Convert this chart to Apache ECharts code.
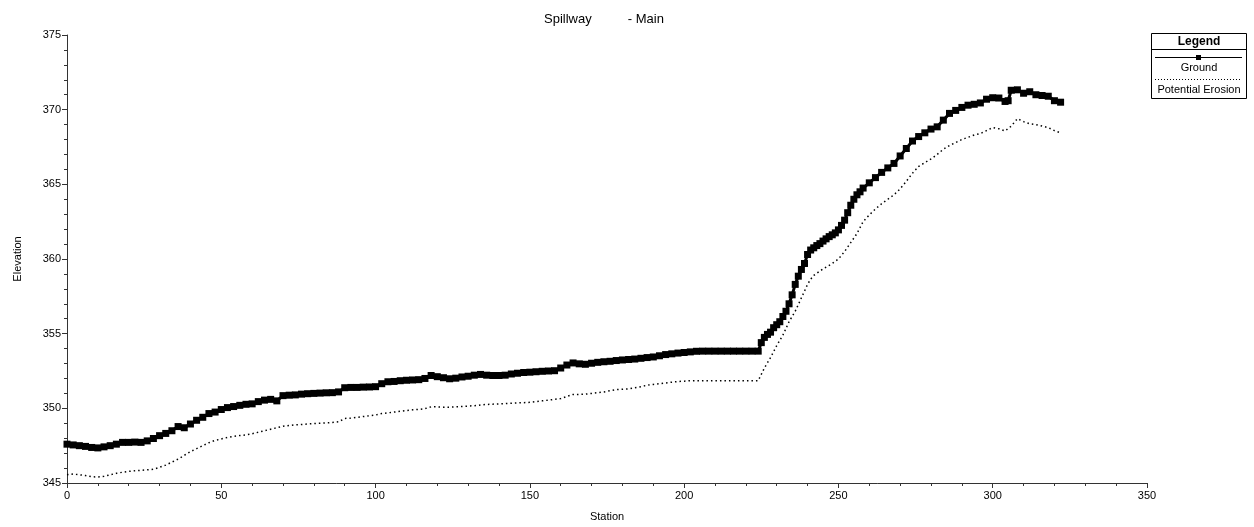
<!DOCTYPE html>
<html>
<head>
<meta charset="utf-8">
<script src="https://cdn.jsdelivr.net/npm/echarts@6/dist/echarts.min.js"></script>
<style>
html,body{margin:0;padding:0;background:#fff;}
#c{width:1254px;height:527px;}
</style>
</head>
<body>
<div id="c"></div>
<script>
// ---- data ----
var groundStations = [0,2,4,6,8,10,12,14,16,18,20,22,24,26,28,30,32,34,36,38,40,42,44,46,48,50,52,54,56,58,60,62,64,66,68,70,72,74,76,78,80,82,84,86,88,90,92,94,96,98,100,102,104,106,108,110,112,114,116,118,120,122,124,126,128,130,132,134,136,138,140,142,144,146,148,150,152,154,156,158,160,162,164,166,168,170,172,174,176,178,180,182,184,186,188,190,192,194,196,198,200,202,204,206,208,210,212,214,216,218,220,222,224,225,226,227,228,229,230,231,232,233,234,235,236,237,238,239,240,241,242,243,244,245,246,247,248,249,250,251,252,253,254,255,256,257,258,260,262,264,266,268,270,272,274,276,278,280,282,284,286,288,290,292,294,296,298,300,302,304,305,306,308,310,312,314,316,318,320,322];
var groundElev = [347.6,347.55,347.5,347.45,347.38,347.35,347.42,347.5,347.6,347.72,347.72,347.74,347.72,347.82,347.98,348.17,348.32,348.5,348.78,348.7,348.95,349.2,349.4,349.65,349.75,349.92,350.05,350.12,350.2,350.27,350.3,350.45,350.55,350.6,350.5,350.85,350.88,350.9,350.95,350.98,351.0,351.02,351.04,351.05,351.1,351.38,351.4,351.4,351.42,351.43,351.45,351.65,351.78,351.8,351.85,351.88,351.9,351.92,352.0,352.2,352.12,352.05,351.98,352.02,352.1,352.15,352.22,352.27,352.22,352.2,352.2,352.22,352.3,352.35,352.4,352.42,352.45,352.48,352.5,352.52,352.7,352.9,353.04,352.98,352.95,353.02,353.08,353.12,353.15,353.2,353.24,353.27,353.3,353.35,353.4,353.44,353.52,353.6,353.65,353.7,353.74,353.78,353.82,353.83,353.83,353.83,353.83,353.83,353.83,353.83,353.83,353.83,353.83,354.4,354.75,354.95,355.1,355.4,355.6,355.8,356.15,356.5,357.0,357.6,358.3,358.85,359.3,359.7,360.3,360.6,360.75,360.9,361.03,361.2,361.35,361.5,361.62,361.75,361.95,362.25,362.6,363.1,363.6,364.0,364.3,364.5,364.75,365.1,365.45,365.8,366.1,366.4,366.9,367.4,367.9,368.2,368.45,368.7,368.85,369.3,369.75,369.95,370.15,370.3,370.36,370.45,370.7,370.8,370.78,370.55,370.6,371.3,371.33,371.1,371.2,371.0,370.95,370.9,370.6,370.5];

var erosionStations = [0,2,4,6,8,10,12,14,16,18,20,22,24,26,28,30,32,34,36,38,40,42,44,46,48,50,52,54,56,58,60,62,64,66,68,70,72,74,76,78,80,82,84,86,88,90,92,94,96,98,100,102,104,106,108,110,112,114,116,118,120,122,124,126,128,130,132,134,136,138,140,142,144,146,148,150,152,154,156,158,160,162,164,166,168,170,172,174,176,178,180,182,184,186,188,190,192,194,196,198,200,202,204,206,208,210,212,214,216,218,220,222,224,226,228,230,232,234,236,238,240,241,242,244,246,248,250,252,254,256,258,260,262,264,266,268,270,272,274,276,278,280,282,284,286,288,290,292,294,296,298,300,302,304,306,308,310,312,314,316,318,320,322];
var erosionElev = [345.55,345.6,345.55,345.5,345.42,345.4,345.45,345.55,345.65,345.72,345.78,345.82,345.85,345.88,345.92,346.05,346.2,346.4,346.6,346.85,347.1,347.3,347.5,347.7,347.85,347.95,348.05,348.12,348.18,348.22,348.3,348.4,348.5,348.6,348.7,348.8,348.85,348.9,348.92,348.95,348.98,349.0,349.02,349.05,349.1,349.32,349.35,349.4,349.45,349.5,349.55,349.65,349.7,349.75,349.8,349.85,349.9,349.93,349.98,350.1,350.1,350.08,350.08,350.1,350.12,350.15,350.18,350.22,350.26,350.28,350.3,350.32,350.34,350.36,350.38,350.4,350.45,350.5,350.55,350.6,350.65,350.8,350.93,350.93,350.95,351.0,351.05,351.1,351.18,351.25,351.28,351.3,351.38,351.45,351.55,351.6,351.65,351.7,351.75,351.8,351.82,351.85,351.85,351.85,351.85,351.85,351.85,351.85,351.85,351.85,351.85,351.85,351.85,352.7,353.4,354.2,354.9,355.8,356.5,357.4,358.3,358.65,358.9,359.2,359.45,359.7,360.0,360.5,361.1,361.7,362.5,362.95,363.35,363.7,364.0,364.3,364.7,365.2,365.75,366.2,366.45,366.7,367.0,367.35,367.6,367.8,368.0,368.15,368.3,368.4,368.6,368.8,368.72,368.57,368.9,369.4,369.2,369.05,369.0,368.9,368.8,368.6,368.45];

var xTicks = [0,50,100,150,200,250,300,350];
var yTicks = [345,350,355,360,365,370,375];
var titleText = 'Spillway          - Main';
var legendTitle = 'Legend';
var seriesNames = ['Ground', 'Potential Erosion'];

function pairs(xs, ys){ return xs.map(function(x,i){ return [x, ys[i]]; }); }

var chart = echarts.init(document.getElementById('c'), null, {renderer:'canvas'});
var font = 'Arial, "Liberation Sans", sans-serif';
var axisCol = '#333';

chart.setOption({
  animation:false,
  backgroundColor:'#fff',
  title:{text:titleText, left:539, top:8, textStyle:{fontSize:13, fontWeight:'normal', color:'#000', fontFamily:font}},
  grid:{left:67, right:107, top:35, bottom:41, containLabel:false},
  xAxis:{
    type:'value', min:xTicks[0], max:xTicks[xTicks.length-1], interval:50,
    name:'Station', nameLocation:'middle', nameGap:28,
    nameTextStyle:{fontSize:11, color:'#000', fontFamily:font},
    axisLine:{show:true, lineStyle:{color:axisCol, width:1}},
    axisTick:{show:true, length:5, lineStyle:{color:axisCol}},
    minorTick:{show:true, splitNumber:5, length:3, lineStyle:{color:axisCol}},
    splitLine:{show:false},
    axisLabel:{fontSize:11, color:'#000', margin:7, fontFamily:font}
  },
  yAxis:{
    type:'value', min:yTicks[0], max:yTicks[yTicks.length-1], interval:5,
    name:'Elevation', nameLocation:'middle', nameGap:44, nameRotate:90,
    nameTextStyle:{fontSize:11, color:'#000', fontFamily:font},
    axisLine:{show:true, lineStyle:{color:axisCol, width:1}},
    axisTick:{show:true, length:5, lineStyle:{color:axisCol}},
    minorTick:{show:true, splitNumber:5, length:3, lineStyle:{color:axisCol}},
    splitLine:{show:false},
    axisLabel:{fontSize:11, color:'#000', margin:6, fontFamily:font}
  },
  series:[
    {
      name:seriesNames[0], type:'line', data:pairs(groundStations, groundElev),
      showSymbol:true, showAllSymbol:true, symbol:'rect', symbolSize:7,
      itemStyle:{color:'#000'}, lineStyle:{color:'#000', width:3},
      z:3
    },
    {
      name:seriesNames[1], type:'line', data:pairs(erosionStations, erosionElev),
      showSymbol:false, symbol:'none',
      lineStyle:{color:'#000', width:1.5, type:[1.5,3]},
      z:2
    }
  ],
  graphic:[
    {type:'rect', shape:{x:1151.5, y:33.5, width:95, height:65}, style:{fill:'#fff', stroke:'#000', lineWidth:1}},
    {type:'line', shape:{x1:1151.5, y1:49.5, x2:1246.5, y2:49.5}, style:{stroke:'#000', lineWidth:1}},
    {type:'text', x:1199, y:41.5, style:{text:legendTitle, align:'center', verticalAlign:'middle', font:'bold 12px '+font, fill:'#000'}},
    {type:'line', shape:{x1:1155, y1:57.5, x2:1242, y2:57.5}, style:{stroke:'#000', lineWidth:1}},
    {type:'rect', shape:{x:1196, y:55, width:5, height:5}, style:{fill:'#000'}},
    {type:'text', x:1199, y:68, style:{text:seriesNames[0], align:'center', verticalAlign:'middle', font:'11px '+font, fill:'#000'}},
    {type:'line', shape:{x1:1155, y1:79.5, x2:1242, y2:79.5}, style:{stroke:'#000', lineWidth:1, lineDash:[1,2]}},
    {type:'text', x:1199, y:90, style:{text:seriesNames[1], align:'center', verticalAlign:'middle', font:'11px '+font, fill:'#000'}}
  ]
});
</script>
</body>
</html>
